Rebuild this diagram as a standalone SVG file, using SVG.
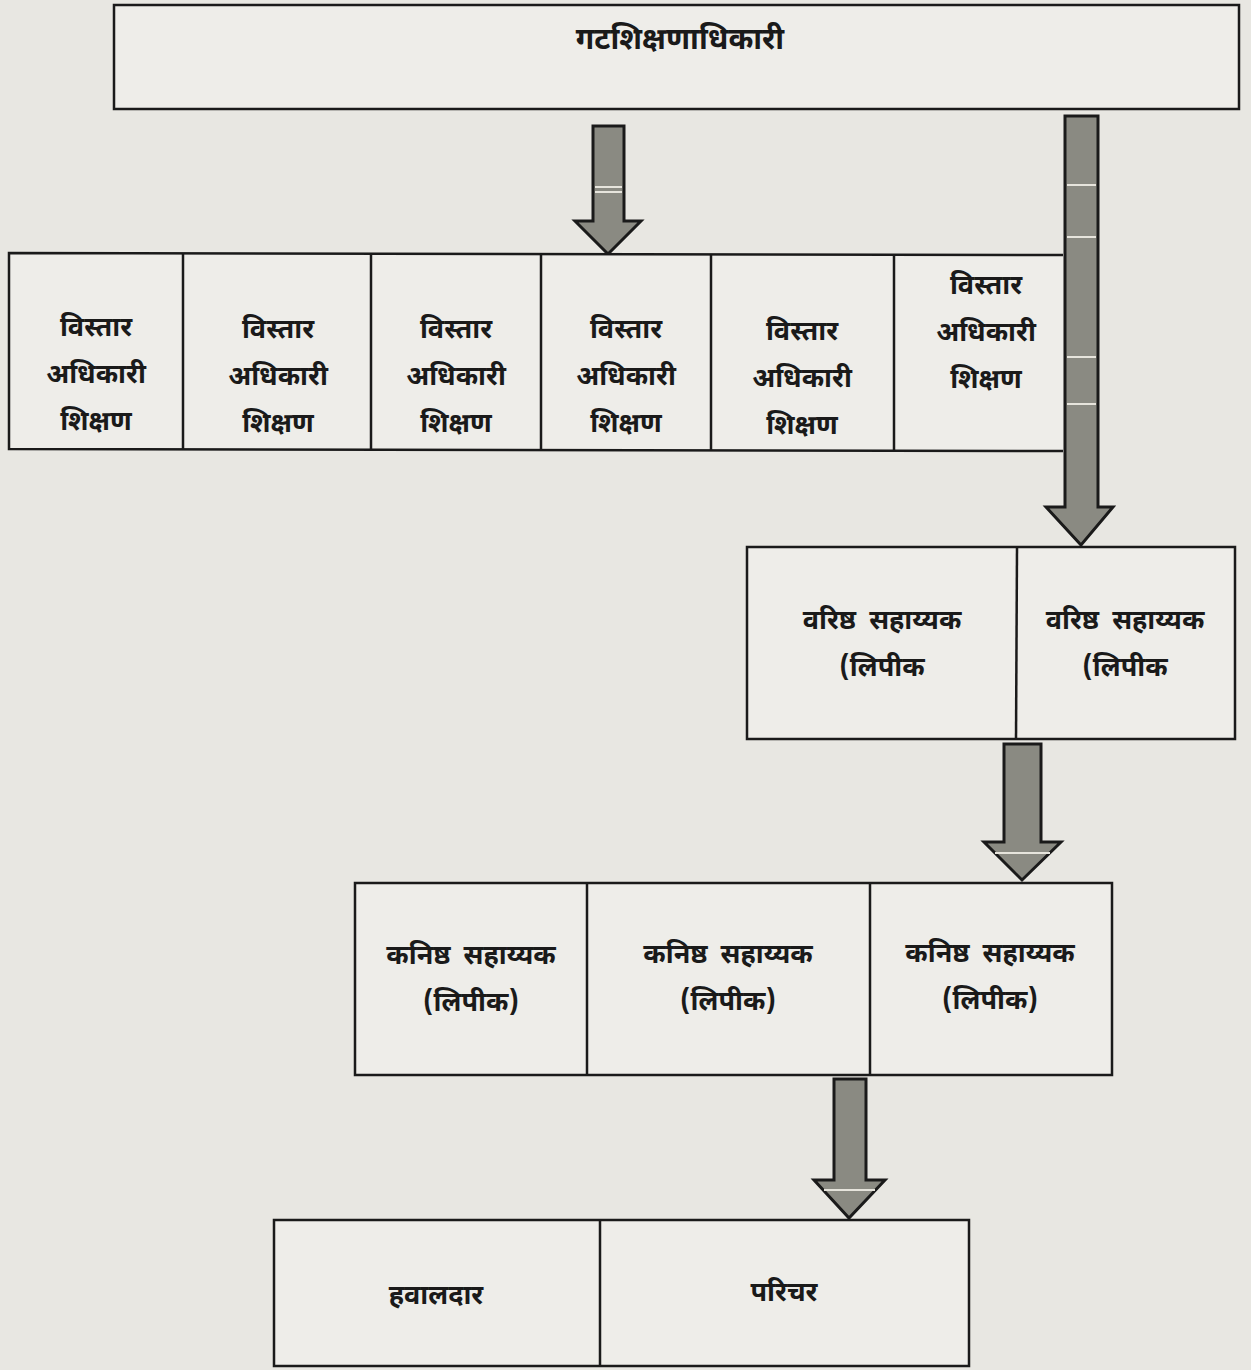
<svg xmlns="http://www.w3.org/2000/svg" width="1251" height="1370" viewBox="0 0 1251 1370">
<style>
.bg{fill:#e8e7e2}
.box{fill:#eeede9;stroke:#1a1a1a;stroke-width:2.5}
.div{stroke:#1a1a1a;stroke-width:2.5;fill:none}
.t{font-family:"Noto Sans Devanagari","Noto Sans","Lohit Devanagari",sans-serif;font-weight:bold;font-size:27px;fill:#1a1a1a;text-anchor:middle}
.w{word-spacing:6px}
.title{font-size:30px}
.arrow{fill:#8a8a82;stroke:#1a1a1a;stroke-width:3;stroke-linejoin:miter}
.band{stroke:#e6e4dc;stroke-width:2}
</style>
<rect class="bg" x="0" y="0" width="1251" height="1370"/>

<g id="connectors">
  <g id="arrow-top-to-row">
    <polygon class="arrow" points="593,126 624,126 624,221 641,221 608,254 575,221 593,221"/>
    <line class="band" x1="595" y1="187" x2="622" y2="187"/>
    <line class="band" x1="595" y1="192" x2="622" y2="192"/>
  </g>
  <g id="arrow-top-to-senior">
    <polygon class="arrow" points="1065,116 1098,116 1098,507 1113,507 1081,545 1046,507 1065,507"/>
    <line class="band" x1="1067" y1="185" x2="1096" y2="185"/>
    <line class="band" x1="1067" y1="237" x2="1096" y2="237"/>
    <line class="band" x1="1067" y1="357" x2="1096" y2="357"/>
    <line class="band" x1="1067" y1="404" x2="1096" y2="404"/>
  </g>
  <g id="arrow-senior-to-junior">
    <polygon class="arrow" points="1004,744 1041,744 1041,842 1061,842 1022,880 984,842 1004,842"/>
    <line class="band" x1="995" y1="853" x2="1050" y2="853"/>
  </g>
  <g id="arrow-junior-to-bottom">
    <polygon class="arrow" points="834,1079 866,1079 866,1180 885,1180 849,1218 814,1180 834,1180"/>
    <line class="band" x1="824" y1="1190" x2="875" y2="1190"/>
  </g>
</g>

<g id="node-head">
  <rect class="box" x="114" y="5" width="1125" height="104"/>
  <text class="t title" x="680" y="49">गटशिक्षणाधिकारी</text>
</g>

<g id="row-extension-officers">
  <rect x="10" y="254" width="1053" height="196" fill="#eeede9"/>
  <path class="div" d="M1063,255 L9,253 L9,449 L1063,451"/>
  <g id="node-eo1">
    <text class="t" x="96" y="336">विस्तार</text>
    <text class="t" x="96" y="383">अधिकारी</text>
    <text class="t" x="96" y="430">शिक्षण</text>
  </g>
  <g id="node-eo2">
    <line class="div" x1="183" y1="253" x2="183" y2="449"/>
    <text class="t" x="278" y="338">विस्तार</text>
    <text class="t" x="278" y="385">अधिकारी</text>
    <text class="t" x="278" y="432">शिक्षण</text>
  </g>
  <g id="node-eo3">
    <line class="div" x1="371" y1="254" x2="371" y2="450"/>
    <text class="t" x="456" y="338">विस्तार</text>
    <text class="t" x="456" y="385">अधिकारी</text>
    <text class="t" x="456" y="432">शिक्षण</text>
  </g>
  <g id="node-eo4">
    <line class="div" x1="541" y1="254" x2="541" y2="450"/>
    <text class="t" x="626" y="338">विस्तार</text>
    <text class="t" x="626" y="385">अधिकारी</text>
    <text class="t" x="626" y="432">शिक्षण</text>
  </g>
  <g id="node-eo5">
    <line class="div" x1="711" y1="254" x2="711" y2="450"/>
    <text class="t" x="802" y="340">विस्तार</text>
    <text class="t" x="802" y="387">अधिकारी</text>
    <text class="t" x="802" y="434">शिक्षण</text>
  </g>
  <g id="node-eo6">
    <line class="div" x1="894" y1="255" x2="894" y2="451"/>
    <text class="t" x="986" y="294">विस्तार</text>
    <text class="t" x="986" y="341">अधिकारी</text>
    <text class="t" x="986" y="388">शिक्षण</text>
  </g>
</g>

<g id="row-senior">
  <rect class="box" x="747" y="547" width="488" height="192"/>
  <g id="node-senior1">
    <text class="t w" x="882" y="629">वरिष्ठ सहाय्यक</text>
    <text class="t" x="882" y="676">(लिपीक</text>
  </g>
  <g id="node-senior2">
    <line class="div" x1="1017" y1="547" x2="1016" y2="739"/>
    <text class="t w" x="1125" y="629">वरिष्ठ सहाय्यक</text>
    <text class="t" x="1125" y="676">(लिपीक</text>
  </g>
</g>

<g id="row-junior">
  <rect class="box" x="355" y="883" width="757" height="192"/>
  <g id="node-junior1">
    <text class="t w" x="471" y="964">कनिष्ठ सहाय्यक</text>
    <text class="t" x="471" y="1011">(लिपीक)</text>
  </g>
  <g id="node-junior2">
    <line class="div" x1="587" y1="883" x2="587" y2="1075"/>
    <text class="t w" x="728" y="963">कनिष्ठ सहाय्यक</text>
    <text class="t" x="728" y="1010">(लिपीक)</text>
  </g>
  <g id="node-junior3">
    <line class="div" x1="870" y1="883" x2="870" y2="1075"/>
    <text class="t w" x="990" y="962">कनिष्ठ सहाय्यक</text>
    <text class="t" x="990" y="1009">(लिपीक)</text>
  </g>
</g>

<g id="row-bottom">
  <rect class="box" x="274" y="1220" width="695" height="146"/>
  <g id="node-havaldar">
    <text class="t" x="436" y="1304">हवालदार</text>
  </g>
  <g id="node-parichar">
    <line class="div" x1="600" y1="1220" x2="600" y2="1366"/>
    <text class="t" x="784" y="1301">परिचर</text>
  </g>
</g>
</svg>
